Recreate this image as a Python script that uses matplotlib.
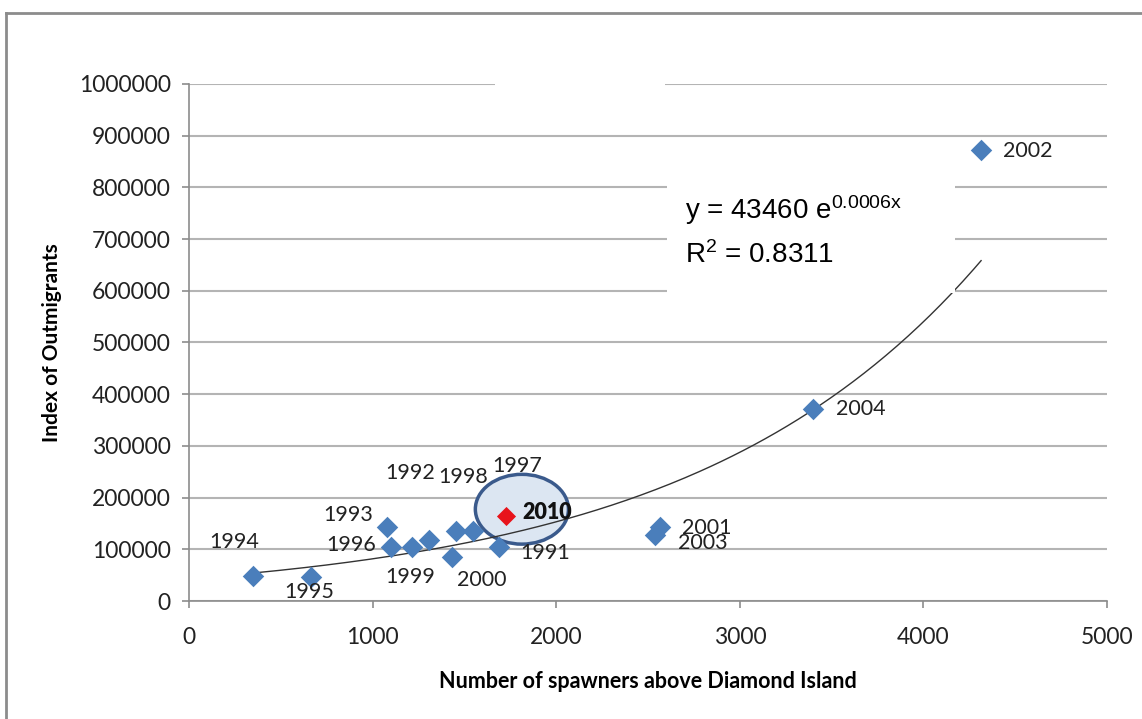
import numpy as np
import matplotlib
matplotlib.use("Agg")
import matplotlib.pyplot as plt
from matplotlib.patches import Ellipse, Rectangle
from matplotlib.lines import Line2D

plt.rcParams["font.family"] = ["Lato", "DejaVu Sans"]
plt.rcParams["mathtext.fontset"] = "custom"
plt.rcParams["mathtext.rm"] = "Liberation Sans"
plt.rcParams["mathtext.it"] = "Liberation Sans"

# spawners above Diamond Island vs index of outmigrants, by year
years = ["1994", "1995", "1993", "1996", "1999", "1992", "2000", "1998",
         "1997", "1991", "2001", "2003", "2004", "2002"]
spawners = [349, 665, 1078, 1100, 1214, 1307, 1432, 1454,
            1547, 1688, 2565, 2538, 3399, 4314]
outmigrants = [48000, 46000, 143000, 104000, 104000, 118000, 85000, 135000,
               135000, 104000, 143000, 128000, 371000, 872000]
# label offsets (pixels) from each point
label_dx = [-19, -2, -39, -40, -2, -19, 30, 7, 44, 46, 47, 48, 48, 47]
label_dy = [34, -15, 12, 2, -30, 67, -23, 54, 65, -6, -1, -8, 0, -1]

year_2010 = "2010"
spawners_2010 = 1726
outmigrants_2010 = 164000

# exponential trend line reported in the chart
trend_a = 43460
trend_b = 0.00063
eq_text = r"y = 43460 e$^{0.0006x}$"
r2_text = r"R$^{2}$ = 0.8311"

blue = "#4a7ebb"
grid_col = "#b4b4b4"

fig = plt.figure(figsize=(11.42, 7.19), dpi=100)
ax = fig.add_axes([0.1655, 0.1641, 0.8039, 0.7191])

ax.set_xlim(0, 5000)
ax.set_ylim(0, 1000000)
ax.set_xticks(np.arange(0, 5001, 1000))
ax.set_yticks(np.arange(0, 1000001, 100000))
ax.ticklabel_format(style="plain", axis="both", useOffset=False)
ax.yaxis.grid(True, color=grid_col, lw=1.5, zorder=0.5)
ax.set_axisbelow(True)
for s in ["top", "right"]:
    ax.spines[s].set_visible(False)
for s in ["left", "bottom"]:
    ax.spines[s].set_color("#8c8c8c")
    ax.spines[s].set_linewidth(1.2)
ax.tick_params(axis="both", colors="#8c8c8c", length=5, width=1.2,
               labelcolor="#222222", labelsize=16.5)
ax.tick_params(axis="x", pad=14)
ax.tick_params(axis="y", pad=8)

ax.set_xlabel("Number of spawners above Diamond Island", fontsize=15.5,
              fontweight="bold", labelpad=16)
ax.set_ylabel("Index of Outmigrants", fontsize=15, fontweight="bold",
              labelpad=12)

# highlight ellipse around 2010
ax.add_patch(Ellipse((spawners_2010 + 87, outmigrants_2010 + 13500), 507, 135000,
                     facecolor="#dce6f2", edgecolor="#3a5a8c", lw=2.5,
                     zorder=1))

# trend line
xs = np.linspace(min(spawners), max(spawners), 200)
ax.plot(xs, trend_a * np.exp(trend_b * xs), color="#333333", lw=1.0, zorder=2)

# white boxes hiding gridlines (as in the original)
ax.add_patch(Rectangle((0.5207, 0.5957), 0.3137, 0.2223, transform=ax.transAxes,
                       facecolor="white", edgecolor="none", zorder=2.5))
ax.add_patch(Rectangle((0.333, 0.97), 0.1855, 0.08, transform=ax.transAxes,
                       facecolor="white", edgecolor="none", zorder=2.5,
                       clip_on=False))

ax.text(0.540, 0.756, eq_text, transform=ax.transAxes, fontsize=20,
        family="Liberation Sans", va="center", ha="left", zorder=4)
ax.text(0.540, 0.669, r2_text, transform=ax.transAxes, fontsize=20,
        family="Liberation Sans", va="center", ha="left", zorder=4)

ax.scatter(spawners, outmigrants, marker="D", s=120, color=blue, zorder=3,
           linewidths=0)
ax.scatter([spawners_2010], [outmigrants_2010], marker="D", s=95,
           color="#e8141c", zorder=3, linewidths=0)

for yr, x, y, dx, dy in zip(years, spawners, outmigrants, label_dx, label_dy):
    ax.annotate(yr, (x, y), xytext=(dx, dy), textcoords="offset pixels",
                ha="center", va="center", fontsize=15.5, color="#222222",
                zorder=4)
ax.annotate(year_2010, (spawners_2010, outmigrants_2010), xytext=(41, 4),
            textcoords="offset pixels", ha="center", va="center",
            fontsize=15.5, fontweight="heavy", color="#111111", zorder=4)

# outer chart frame
fy = 1 - 13 / 719
fx = 6 / 1142
fig.add_artist(Line2D([fx, fx], [0, fy], color="#8c8c8c", lw=2))
fig.add_artist(Line2D([fx, 1], [fy, fy], color="#8c8c8c", lw=2))

fig.savefig("out.png", dpi=100)
